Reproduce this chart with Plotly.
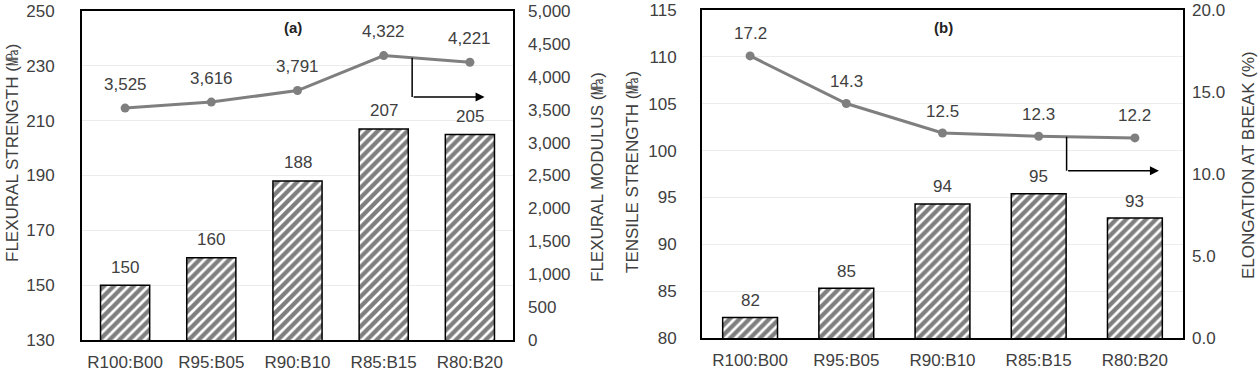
import plotly.graph_objects as go

categories = ["R100:B00", "R95:B05", "R90:B10", "R85:B15", "R80:B20"]
flex_strength = [150, 160, 188, 207, 205]
flex_modulus = [3525, 3616, 3791, 4322, 4221]
tensile_strength = [82.2, 85.3, 94.3, 95.4, 92.8]
elongation = [17.2, 14.3, 12.5, 12.3, 12.2]

W, H = 1260, 372
FONT = "Liberation Sans, Arial, sans-serif"
TXT = "#404040"
LINE = "#7f7f7f"

def px(x):
    return x / W

def py(y):
    return 1 - y / H

fig = go.Figure()

bar_style = dict(
    marker=dict(color="white", line=dict(color="black", width=1.5),
                pattern=dict(shape="/", fgcolor="black", bgcolor="white", size=7, solidity=0.62)),
    width=0.57, showlegend=False, hoverinfo="skip",
)
line_style = dict(mode="lines+markers", line=dict(color=LINE, width=3),
                  marker=dict(color=LINE, size=9), showlegend=False, hoverinfo="skip")

fig.add_trace(go.Bar(x=categories, y=flex_strength, xaxis="x", yaxis="y", **bar_style))
fig.add_trace(go.Scatter(x=categories, y=flex_modulus, xaxis="x", yaxis="y2", **line_style))
fig.add_trace(go.Bar(x=categories, y=tensile_strength, xaxis="x2", yaxis="y3", **bar_style))
fig.add_trace(go.Scatter(x=categories, y=elongation, xaxis="x2", yaxis="y4", **line_style))

tickfont = dict(family=FONT, size=17, color=TXT)
frame = dict(showline=True, linecolor="black", linewidth=2, mirror=True)
common_y = dict(ticks="", zeroline=False, automargin=False, ticklabeloverflow="allow")

left_dom = [px(82), px(513)]
right_dom = [px(702), px(1183)]
ydom_l = [py(340), py(11)]
ydom_r = [py(338), py(10)]

fig.update_layout(
    width=W, height=H,
    margin=dict(l=0, r=0, t=0, b=0, autoexpand=False),
    paper_bgcolor="white", plot_bgcolor="white",
    bargap=0.43,
    xaxis=dict(domain=left_dom, anchor="y", type="category", tickfont=tickfont,
               ticks="", ticklabelstandoff=6, automargin=False, **frame),
    yaxis=dict(domain=ydom_l, anchor="x", range=[130, 250], tick0=130, dtick=20, tickfont=tickfont,
               showgrid=True, gridcolor="#ececec", gridwidth=1,
               ticklabelstandoff=22, **common_y, **frame),
    yaxis2=dict(overlaying="y", anchor="x", side="right", range=[0, 5000], dtick=500,
                tickformat=",", tickfont=tickfont, showgrid=False,
                ticklabelstandoff=14, showline=False, **common_y),
    xaxis2=dict(domain=right_dom, anchor="y3", type="category", tickfont=tickfont,
                ticks="", ticklabelstandoff=6, automargin=False, **frame),
    yaxis3=dict(domain=ydom_r, anchor="x2", range=[80, 115], dtick=5, tickfont=tickfont,
                showgrid=True, gridcolor="#ececec", gridwidth=1,
                ticklabelstandoff=20, **common_y, **frame),
    yaxis4=dict(overlaying="y3", anchor="x2", side="right", range=[0, 20], dtick=5,
                tickformat=".1f", tickfont=tickfont, showgrid=False,
                ticklabelstandoff=8, showline=False, **common_y),
)

lab_font = dict(family=FONT, size=17, color=TXT)
ann = []
for c, v in zip(categories, flex_strength):
    ann.append(dict(x=c, y=v, xref="x", yref="y", text=f"{v:.0f}", showarrow=False,
                    yshift=18, font=lab_font))
for c, v in zip(categories, flex_modulus):
    ann.append(dict(x=c, y=v, xref="x", yref="y2", text=f"{v:,}", showarrow=False,
                    yshift=24, font=lab_font))
for c, v in zip(categories, tensile_strength):
    ann.append(dict(x=c, y=v, xref="x2", yref="y3", text=f"{v:.0f}", showarrow=False,
                    yshift=17, font=lab_font))
for c, v in zip(categories, elongation):
    ann.append(dict(x=c, y=v, xref="x2", yref="y4", text=f"{v:.1f}", showarrow=False,
                    yshift=22, font=lab_font))

title_font = dict(family=FONT, size=17, color=TXT)
tcommon = dict(xref="paper", yref="paper", textangle=-90, showarrow=False,
               xanchor="center", yanchor="middle", font=title_font)
ann += [
    dict(x=px(12), y=py(153), text="FLEXURAL STRENGTH (㎫)", **tcommon),
    dict(x=px(597), y=py(177), text="FLEXURAL MODULUS (㎫)", **tcommon),
    dict(x=px(632), y=py(172), text="TENSILE STRENGTH (㎫)", **tcommon),
    dict(x=px(1248), y=py(165), text="ELONGATION AT BREAK (%)", **tcommon),
    dict(x=px(293), y=py(27), xref="paper", yref="paper", text="<b>(a)</b>",
         xanchor="center", yanchor="middle",
         showarrow=False, font=dict(family=FONT, size=15, color="#222")),
    dict(x=px(943), y=py(27), xref="paper", yref="paper", text="<b>(b)</b>",
         xanchor="center", yanchor="middle",
         showarrow=False, font=dict(family=FONT, size=15, color="#222")),
]

# axis-pointer arrows (which axis the line belongs to)
ann += [
    dict(x=4.17, y=3693, xref="x", yref="y2", ax=3.33, ay=3693, axref="x", ayref="y2",
         showarrow=True, arrowhead=2, arrowsize=1.2, arrowwidth=1.5, arrowcolor="black", text=""),
    dict(x=4.25, y=10.2, xref="x2", yref="y4", ax=3.29, ay=10.2, axref="x2", ayref="y4",
         showarrow=True, arrowhead=2, arrowsize=1.2, arrowwidth=1.5, arrowcolor="black", text=""),
]
fig.update_layout(annotations=ann)

fig.add_shape(type="line", xref="x", yref="y2", x0=3.33, x1=3.33, y0=4290, y1=3693,
              line=dict(color="black", width=1.5))
fig.add_shape(type="line", xref="x2", yref="y4", x0=3.29, x1=3.29, y0=12.27, y1=10.2,
              line=dict(color="black", width=1.5))

# remove the browser's default 8px body margin so the figure sits at the page origin
fig.write_html("out.html", config={"displayModeBar": False},
               post_script="document.body.style.margin='0';")
